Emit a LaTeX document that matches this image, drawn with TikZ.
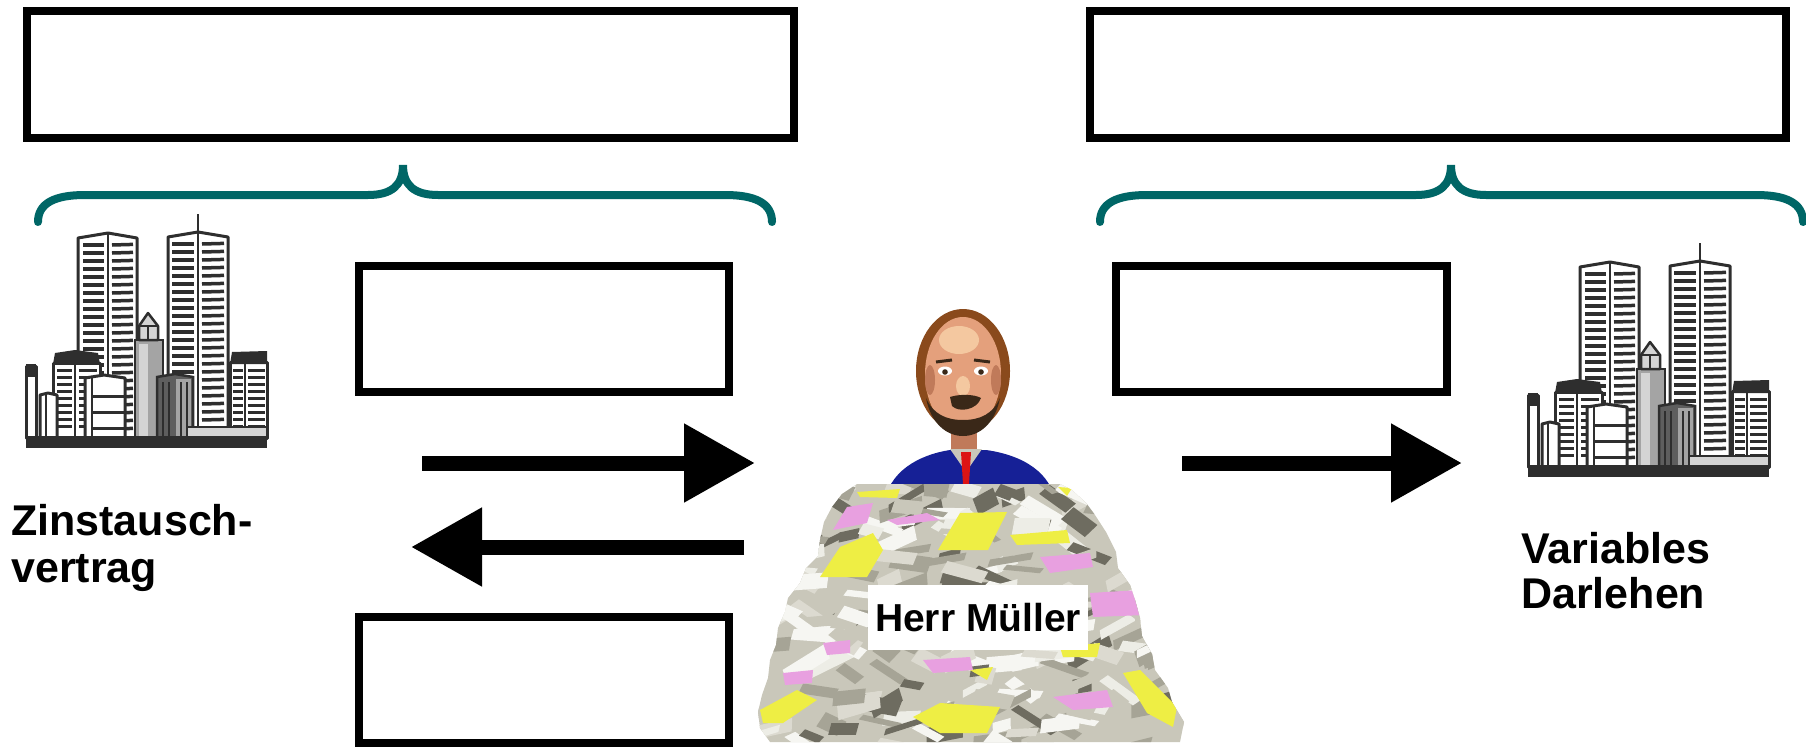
\documentclass[tikz,border=0pt]{standalone}
\usepackage{fontspec}
\setmainfont{Liberation Sans}
\usetikzlibrary{arrows.meta}

\definecolor{braceteal}{RGB}{0,102,102}
\definecolor{bldline}{HTML}{2E2E2E}
\definecolor{bldgray}{HTML}{A4A4A4}
\definecolor{blddark}{HTML}{5E5E5E}
\definecolor{bldlight}{HTML}{D4D4D4}
\definecolor{jacket}{RGB}{22,32,150}
\definecolor{tiered}{RGB}{220,20,20}
\definecolor{skin}{HTML}{E4A07C}
\definecolor{skinlight}{HTML}{F4C8A0}
\definecolor{skindark}{HTML}{C07A5A}
\definecolor{hair}{HTML}{8A4A1C}
\definecolor{beard}{HTML}{3A2818}
\definecolor{paperyellow}{HTML}{EEEE44}
\definecolor{paperpink}{HTML}{E8A0E0}
\definecolor{pc0}{HTML}{EDEDE6}
\definecolor{pc1}{HTML}{C9C7BA}
\definecolor{pc2}{HTML}{A6A496}
\definecolor{pc3}{HTML}{DCDAD0}
\definecolor{pc4}{HTML}{6E6C60}
\definecolor{pc5}{HTML}{F6F6F2}

\tikzset{
  boxframe/.style={draw=black, line width=8bp, inner sep=0pt, fill=white},
  curly/.style={draw=braceteal, line width=8bp, line cap=round},
  bigarrow/.style={line width=15bp, -{Triangle[length=71bp, width=75bp]}},
  lbl/.style={font=\fontsize{43bp}{47bp}\selectfont\bfseries, inner sep=0pt, anchor=base west},
  namebox/.style={fill=white, inner sep=0pt, minimum width=220bp, minimum height=65bp,
                  font=\fontsize{39bp}{43bp}\selectfont\bfseries},
  wall/.style={fill=white, draw=bldline, line width=3bp, line join=round},
  win/.style={draw=bldline, line width=3.5bp},
  city/.pic={
    % twin towers
    \filldraw[wall] (78,438) -- (78,238) -- (108,233) -- (137,238) -- (137,438) -- cycle;
    \draw[bldline, line width=2.5bp] (108,233) -- (108,438);
    \foreach \wy in {245,253,...,430} {
      \draw[win] (83,\wy) -- (104,\wy);
      \draw[win] (112,\wy) -- (133,\wy-0.6);
    }
    \draw[bldline, line width=2.5bp] (198,214) -- (198,233);
    \filldraw[wall] (168,438) -- (168,237) -- (198,232) -- (228,237) -- (228,438) -- cycle;
    \draw[bldline, line width=2.5bp] (198,232) -- (198,438);
    \foreach \wy in {244,252,...,424} {
      \draw[win] (172,\wy) -- (194,\wy);
      \draw[win] (202,\wy) -- (224,\wy-0.6);
    }
    % spire block between the towers
    \filldraw[fill=bldgray, draw=bldline, line width=2.5bp] (135,438) -- (135,340) -- (163,340) -- (163,438) -- cycle;
    \fill[bldlight] (139,344) rectangle (148,436);
    \filldraw[fill=bldlight, draw=bldline, line width=2.5bp, line join=round] (139,340) -- (139,326) -- (148,313) -- (158,326) -- (158,340) -- cycle;
    \draw[bldline, line width=1.5bp] (139,326) -- (158,326) (148,326) -- (148,340);
    % left group
    \filldraw[wall] (26,438) -- (26,366) -- (36,366) -- (36,438) -- cycle;
    \fill[bldline] (26,364) rectangle (36,377);
    \filldraw[wall] (53,438) -- (53,363) -- (100,363) -- (100,438) -- cycle;
    \fill[bldline] (55,353) -- (75,350) -- (98,353) -- (100,364) -- (53,364) -- cycle;
    \draw[bldline, line width=2.5bp] (75,363) -- (75,438);
    \foreach \wy in {370,377,...,432} {
      \draw[win, line width=3bp] (57,\wy) -- (72,\wy);
      \draw[win, line width=3bp] (79,\wy) -- (97,\wy);
    }
    \filldraw[wall] (40,438) -- (40,395) -- (48,393) -- (57,395) -- (57,438) -- cycle;
    \draw[bldline, line width=2.5bp] (46,394) -- (46,438);
    \filldraw[wall] (85,438) -- (85,378) -- (104,375) -- (125,378) -- (125,438) -- cycle;
    \draw[bldline, line width=2.5bp] (92,377) -- (92,438);
    \foreach \wy in {396,412,428} \draw[bldline, line width=3bp] (92,\wy) -- (125,\wy);
    % right group
    \filldraw[fill=blddark, draw=bldline, line width=2.5bp] (157,438) -- (157,377) -- (175,374) -- (193,377) -- (193,438) -- cycle;
    \fill[bldgray] (176,379) rectangle (191,436);
    \foreach \sx in {163,169,181,187} \draw[bldline, line width=1.5bp] (\sx,382) -- (\sx,436);
    \filldraw[wall] (230,438) -- (230,362) -- (267,362) -- (267,438) -- cycle;
    \fill[bldline] (232,352) -- (267,351) -- (267,364) -- (230,364) -- cycle;
    \draw[bldline, line width=2.5bp] (245,362) -- (245,438);
    \foreach \wy in {370,377,...,426} {
      \draw[win, line width=3bp] (233,\wy) -- (243,\wy);
      \draw[win, line width=3bp] (248,\wy) -- (265,\wy);
    }
    \filldraw[fill=bldlight, draw=bldline, line width=2.5bp] (187,427) rectangle (267,438);
    \fill[bldline] (26,436) rectangle (267,448);
  }
}

\begin{document}
\begin{tikzpicture}[x=1bp, y=-1bp]
\useasboundingbox (0,0) rectangle (1806,747);

% empty frames
\node[boxframe, minimum width=767bp, minimum height=127bp] (topL) at (410.5,74.5) {};
\node[boxframe, minimum width=696bp, minimum height=127bp] (topR) at (1438,74.5) {};
\node[boxframe, minimum width=370bp, minimum height=126bp] (midL) at (544,329) {};
\node[boxframe, minimum width=370bp, minimum height=126bp] (lowL) at (544,680) {};
\node[boxframe, minimum width=331bp, minimum height=126bp] (midR) at (1281.5,329) {};

% curly braces under the top frames
\draw[curly] (38,222) .. controls (38,203) and (55,195) .. (85,195) -- (368,195)
  .. controls (392,195) and (403,185) .. (403,165)
  .. controls (403,185) and (414,195) .. (438,195) -- (725,195)
  .. controls (755,195) and (772,203) .. (772,222);
\draw[curly] (1100,222) .. controls (1100,203) and (1117,195) .. (1147,195) -- (1416,195)
  .. controls (1440,195) and (1451,185) .. (1451,165)
  .. controls (1451,185) and (1462,195) .. (1486,195) -- (1756,195)
  .. controls (1786,195) and (1803,203) .. (1803,222);

% city skylines
\pic (cityL) at (0,0) {city};
\pic (cityR) at (1502,29) {city};

% labels
\node[lbl] (zins1) at (11,535) {Zinstausch-};
\node[lbl] (zins2) at (11,582) {vertrag};
\node[lbl] (darl1) at (1521,563) {Variables};
\node[lbl] (darl2) at (1521,608) {Darlehen};

% arrows
\coordinate (a1s) at (422,463);
\coordinate (a1e) at (755,463);
\coordinate (a2s) at (744,547);
\coordinate (a2e) at (411,547);
\coordinate (a3s) at (1182,463);
\coordinate (a3e) at (1462,463);
\draw[bigarrow] (a1s) -- (a1e);
\draw[bigarrow] (a2s) -- (a2e);
\draw[bigarrow] (a3s) -- (a3e);

% the man: neck, jacket and tie
\fill[skindark] (951,425) rectangle (977,458);
\fill[jacket] (884,505) .. controls (888,472) and (918,455) .. (950,450) -- (986,450)
  .. controls (1022,455) and (1052,472) .. (1056,505) -- cycle;
\fill[pc1] (950,449) -- (982,449) -- (966,472) -- cycle;
\fill[tiered] (961,452) -- (971,452) -- (969,484) -- (963,484) -- cycle;

% head
\fill[hair] (963,371) ellipse [x radius=47, y radius=62];
\fill[skin] (963,374) ellipse [x radius=38, y radius=57];
\fill[skinlight] (959,340) ellipse [x radius=20, y radius=14];
\fill[skinlight] (963,386) ellipse [x radius=7, y radius=10];
\fill[skindark] (930,380) ellipse [x radius=5, y radius=15];
\fill[skindark] (996,380) ellipse [x radius=5, y radius=15];
\draw[beard, line width=3bp] (936,362) -- (952,360) (974,360) -- (990,362);
\fill[white] (945,371) ellipse [x radius=7, y radius=4.5];
\fill[white] (981,371) ellipse [x radius=7, y radius=4.5];
\fill[beard] (945,372) circle [radius=2.8];
\fill[beard] (981,372) circle [radius=2.8];
\fill[beard] (950,397) .. controls (959,394) and (974,394) .. (981,398)
  .. controls (977,410) and (959,413) .. (952,406) -- cycle;
\fill[beard] (926,398) .. controls (931,424) and (947,436) .. (963,436)
  .. controls (979,436) and (995,424) .. (1000,398)
  .. controls (993,414) and (980,420) .. (963,420)
  .. controls (946,420) and (933,414) .. (926,398) -- cycle;

% the pile of papers
\begin{scope}
  \clip (857,484) -- (842,494) -- (832,507) -- (824,522) -- (820,540) -- (818,556)
    -- (806,568) -- (800,583) -- (788,598) -- (785,612) -- (778,628) -- (776,645)
    -- (770,660) -- (768,678) -- (762,695) -- (758,712) -- (760,728) -- (770,742)
    -- (1180,742) -- (1184,722) -- (1172,702) -- (1168,688) -- (1155,670)
    -- (1152,654) -- (1142,636) -- (1140,618) -- (1135,600) -- (1130,585)
    -- (1118,568) -- (1116,552) -- (1106,532) -- (1095,515) -- (1086,503)
    -- (1072,490) -- (1060,484) -- cycle;
  \fill[pc1] (750,470) rectangle (1190,747);
  \pgfmathsetseed{4217}
  \foreach \i in {1,...,230} {
    \pgfmathsetmacro\cx{760+rnd*425}
    \pgfmathsetmacro\cy{480+rnd*265}
    \pgfmathsetmacro\ang{-35+rnd*70}
    \pgfmathsetmacro\len{16+rnd*34}
    \pgfmathsetmacro\wid{5+rnd*12}
    \pgfmathtruncatemacro\col{int(rnd*6)}
    \fill[pc\col, rotate around={\ang:(\cx,\cy)}]
      (\cx-\len/2,\cy-\wid/2) -- ++(\len,2) -- ++(-4,\wid) -- ++(-\len,-2) -- cycle;
  }
  \fill[paperyellow] (938,550) -- (960,513) -- (1007,512) -- (988,550) -- cycle;
  \fill[paperyellow] (820,577) -- (840,547) -- (873,533) -- (883,550) -- (867,577) -- cycle;
  \fill[paperyellow] (1010,535) -- (1067,530) -- (1070,543) -- (1017,545) -- cycle;
  \fill[paperyellow] (857,492) -- (900,489) -- (897,498) -- (860,497) -- cycle;
  \fill[paperyellow] (760,710) -- (797,690) -- (817,700) -- (783,723) -- (763,723) -- cycle;
  \fill[paperyellow] (913,717) -- (940,703) -- (1000,707) -- (987,733) -- (940,733) -- cycle;
  \fill[paperyellow] (1123,673) -- (1140,670) -- (1177,707) -- (1173,727) -- (1147,713) -- cycle;
  \fill[paperyellow] (1060,647) -- (1100,643) -- (1097,657) -- (1063,657) -- cycle;
  \fill[paperyellow] (970,670) -- (993,667) -- (987,680) -- cycle;
  \fill[paperyellow] (1058,487) -- (1072,488) -- (1067,496) -- cycle;
  \fill[paperpink] (833,530) -- (847,507) -- (873,503) -- (867,523) -- cycle;
  \fill[paperpink] (887,520) -- (927,513) -- (940,520) -- (897,525) -- cycle;
  \fill[paperpink] (1040,557) -- (1090,553) -- (1093,567) -- (1050,573) -- cycle;
  \fill[paperpink] (1090,593) -- (1140,590) -- (1145,615) -- (1093,617) -- cycle;
  \fill[paperpink] (923,660) -- (970,657) -- (973,670) -- (933,673) -- cycle;
  \fill[paperpink] (1053,697) -- (1107,690) -- (1113,707) -- (1073,710) -- cycle;
  \fill[paperpink] (783,673) -- (813,670) -- (812,683) -- (785,685) -- cycle;
  \fill[paperpink] (823,643) -- (850,640) -- (850,653) -- (827,655) -- cycle;
\end{scope}

% name tag
\node[namebox] (name) at (978,617.5) {Herr Müller};
\end{tikzpicture}
\end{document}
